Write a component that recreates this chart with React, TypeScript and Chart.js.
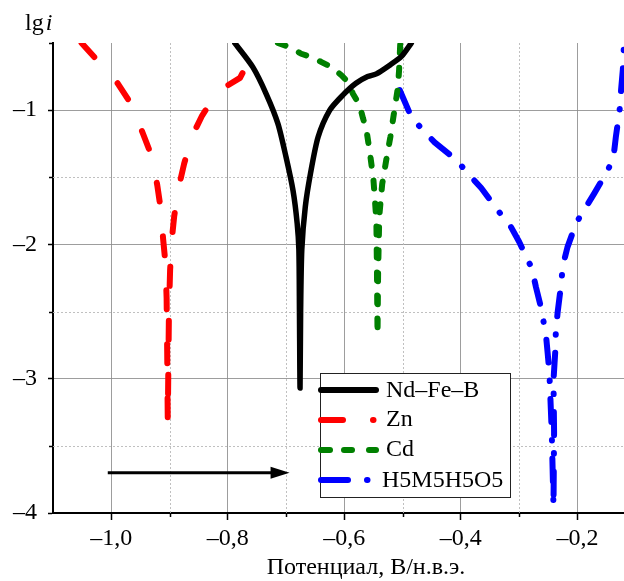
import { useEffect, useRef } from 'react';
import { Chart, registerables } from 'chart.js';

Chart.register(...registerables);

const seriesLabels = ['Nd\u2013Fe\u2013B', 'Zn', 'Cd', 'H5M5H5O5'];
const seriesColors = ['#000000', '#ff0000', '#008000', '#0000ff'];

const ndfebPotential = [-0.788, -0.757, -0.734, -0.714, -0.700, -0.688, -0.681, -0.678, -0.677, -0.676, -0.675, -0.673, -0.667, -0.658, -0.645, -0.625, -0.603, -0.580, -0.560, -0.545, -0.522, -0.502, -0.485];
const ndfebLgI = [-0.50, -0.68, -0.88, -1.10, -1.35, -1.60, -1.84, -2.04, -2.50, -3.07, -2.50, -2.04, -1.72, -1.47, -1.20, -1.00, -0.89, -0.80, -0.75, -0.73, -0.665, -0.60, -0.50];

const znPotential = [-1.051, -1.024, -0.989, -0.965, -0.946, -0.930, -0.921, -0.915, -0.911, -0.907, -0.905, -0.904, -0.903, -0.902, -0.901, -0.899, -0.896, -0.892, -0.884, -0.875, -0.862, -0.844, -0.817, -0.779, -0.754, -0.751];
const znLgI = [-0.50, -0.63, -0.80, -0.96, -1.17, -1.35, -1.56, -1.74, -1.96, -2.14, -2.40, -2.80, -3.33, -2.90, -2.50, -2.19, -1.96, -1.79, -1.57, -1.40, -1.20, -1.04, -0.86, -0.76, -0.55, -0.50];

const cdPotential = [-0.714, -0.694, -0.674, -0.660, -0.640, -0.622, -0.605, -0.594, -0.585, -0.574, -0.568, -0.562, -0.556, -0.550, -0.545, -0.544, -0.543, -0.542, -0.540, -0.535, -0.528, -0.521, -0.514, -0.508, -0.506, -0.504];
const cdLgI = [-0.50, -0.53, -0.58, -0.60, -0.64, -0.68, -0.74, -0.79, -0.88, -0.96, -1.06, -1.15, -1.32, -1.52, -1.82, -2.20, -2.67, -2.20, -1.79, -1.55, -1.37, -1.20, -1.00, -0.83, -0.70, -0.50];

const h5Potential = [-0.505, -0.485, -0.465, -0.445, -0.408, -0.388, -0.365, -0.334, -0.314, -0.300, -0.278, -0.271, -0.263, -0.254, -0.251, -0.248, -0.244, -0.241, -0.240, -0.241, -0.238, -0.237, -0.234, -0.228, -0.225, -0.217, -0.202, -0.188, -0.171, -0.148, -0.138, -0.134, -0.127, -0.125, -0.122, -0.120];
const h5LgI = [-0.85, -1.05, -1.15, -1.24, -1.37, -1.47, -1.58, -1.76, -1.87, -1.98, -2.18, -2.32, -2.46, -2.67, -2.81, -2.96, -3.40, -3.95, -3.40, -3.01, -2.80, -2.65, -2.51, -2.30, -2.16, -2.02, -1.84, -1.74, -1.62, -1.45, -1.35, -1.20, -0.98, -0.85, -0.70, -0.50];

const xMin = -1.1;
const xMax = -0.12;
const yMin = -4;
const yMax = -0.5;
const xMajorTicks = [-1.0, -0.8, -0.6, -0.4, -0.2];
const xMinorTicks = [-0.9, -0.7, -0.5, -0.3];
const yMajorTicks = [-1, -2, -3, -4];
const yMinorTicks = [-0.5, -1.5, -2.5, -3.5];

const arrowStart = [-1.006, -3.70];
const arrowEnd = [-0.694, -3.70];

const xTitle = 'Потенциал, В/н.в.э.';
const yTitleMain = 'lg';
const yTitleItalic = 'i';

const FONT = '"Liberation Serif", "DejaVu Serif", serif';

function toPoints(xs: number[], ys: number[]) {
  return xs.map((x, i) => ({ x, y: ys[i] }));
}

const decorPlugin = {
  id: 'decor',
  beforeDatasetsDraw(chart: any) {
    const { ctx, chartArea: a, scales } = chart;
    const x = scales.x;
    const y = scales.y;
    ctx.save();
    ctx.strokeStyle = 'rgba(185,185,185,0.9)';
    ctx.lineWidth = 1;
    ctx.setLineDash([2, 2]);
    xMinorTicks.forEach((v) => {
      const px = Math.round(x.getPixelForValue(v)) + 0.5;
      ctx.beginPath();
      ctx.moveTo(px, a.top);
      ctx.lineTo(px, a.bottom);
      ctx.stroke();
    });
    yMinorTicks.forEach((v) => {
      if (v >= yMax) return;
      const py = Math.round(y.getPixelForValue(v)) + 0.5;
      ctx.beginPath();
      ctx.moveTo(a.left, py);
      ctx.lineTo(a.right, py);
      ctx.stroke();
    });
    ctx.restore();
  },
  afterDraw(chart: any) {
    const { ctx, chartArea: a, scales } = chart;
    const x = scales.x;
    const y = scales.y;
    ctx.save();
    ctx.strokeStyle = '#000';
    ctx.lineWidth = 1.5;
    ctx.setLineDash([]);
    xMinorTicks.forEach((v) => {
      const px = Math.round(x.getPixelForValue(v)) + 0.5;
      ctx.beginPath();
      ctx.moveTo(px, a.bottom);
      ctx.lineTo(px, a.bottom + 4);
      ctx.stroke();
    });
    yMinorTicks.forEach((v) => {
      const py = Math.round(y.getPixelForValue(v)) + 0.5;
      ctx.beginPath();
      ctx.moveTo(a.left, py);
      ctx.lineTo(a.left - 4, py);
      ctx.stroke();
    });

    // arrow
    const ax0 = x.getPixelForValue(arrowStart[0]);
    const ay0 = y.getPixelForValue(arrowStart[1]);
    const ax1 = x.getPixelForValue(arrowEnd[0]);
    const ay1 = y.getPixelForValue(arrowEnd[1]);
    ctx.strokeStyle = '#000';
    ctx.fillStyle = '#000';
    ctx.lineWidth = 3;
    ctx.beginPath();
    ctx.moveTo(ax0, ay0);
    ctx.lineTo(ax1 - 14, ay1);
    ctx.stroke();
    ctx.beginPath();
    ctx.moveTo(ax1, ay1);
    ctx.lineTo(ax1 - 19, ay1 - 6);
    ctx.lineTo(ax1 - 19, ay1 + 6);
    ctx.closePath();
    ctx.fill();

    // legend
    const bx = 320, by = 373, bw = 190, bh = 124;
    ctx.fillStyle = '#fff';
    ctx.fillRect(bx, by, bw, bh);
    ctx.strokeStyle = '#222';
    ctx.lineWidth = 1;
    ctx.strokeRect(bx + 0.5, by + 0.5, bw, bh);
    const rowsY = [390, 420, 450, 480];
    const textBase = [397, 426, 456, 487];
    const textX = [386, 386, 386, 382];
    ctx.lineCap = 'round';
    ctx.lineWidth = 6;
    const seg = (c: string, x0: number, x1: number, yy: number) => {
      ctx.strokeStyle = c;
      ctx.beginPath();
      ctx.moveTo(x0, yy);
      ctx.lineTo(x1, yy);
      ctx.stroke();
    };
    seg(seriesColors[0], 321, 376, rowsY[0]);
    seg(seriesColors[1], 321, 343, rowsY[1]);
    seg(seriesColors[1], 373, 373.5, rowsY[1]);
    seg(seriesColors[2], 321, 330, rowsY[2]);
    seg(seriesColors[2], 344, 352, rowsY[2]);
    seg(seriesColors[2], 369, 376, rowsY[2]);
    seg(seriesColors[3], 321, 348, rowsY[3]);
    seg(seriesColors[3], 367, 367.5, rowsY[3]);
    ctx.fillStyle = '#000';
    ctx.font = `24px ${FONT}`;
    ctx.textAlign = 'left';
    ctx.textBaseline = 'alphabetic';
    seriesLabels.forEach((t, i) => ctx.fillText(t, textX[i], textBase[i]));

    // axis titles
    ctx.textAlign = 'center';
    ctx.fillText(xTitle, 366, 574);
    ctx.textAlign = 'left';
    ctx.font = `24px ${FONT}`;
    ctx.fillText(yTitleMain, 25, 30);
    const w = ctx.measureText(yTitleMain).width;
    ctx.font = `italic 24px ${FONT}`;
    ctx.fillText(yTitleItalic, 25 + w + 2, 30);
    ctx.restore();
  },
};

export default function App() {
  const ref = useRef<HTMLCanvasElement | null>(null);
  useEffect(() => {
    if (!ref.current) return;
    const mk = (i: number, xs: number[], ys: number[], dash: number[], width: number, tension: number) => ({
      label: seriesLabels[i],
      data: toPoints(xs, ys),
      borderColor: seriesColors[i],
      backgroundColor: seriesColors[i],
      borderWidth: width,
      borderDash: dash,
      borderCapStyle: 'round',
      borderJoinStyle: 'round',
      pointRadius: 0,
      tension,
      fill: false,
    });
    const chart = new Chart(ref.current, {
      type: 'line',
      data: {
        datasets: [
          mk(0, ndfebPotential, ndfebLgI, [], 5.5, 0.25),
          mk(1, znPotential, znLgI, [19, 35], 6, 0),
          mk(2, cdPotential, cdLgI, [8, 15], 6, 0),
          mk(3, h5Potential, h5LgI, [23, 18, 0.5, 18], 6, 0),
        ] as any,
      },
      options: {
        animation: false,
        responsive: true,
        maintainAspectRatio: false,
        layout: { padding: { top: 43, left: 0, right: 0, bottom: 0 } },
        plugins: {
          legend: { display: false },
          tooltip: { enabled: false },
        },
        scales: {
          x: {
            type: 'linear',
            min: xMin,
            max: xMax,
            afterBuildTicks: (s: any) => {
              s.ticks = xMajorTicks.map((v) => ({ value: v }));
            },
            afterFit: (s: any) => {
              s.height = 68;
            },
            ticks: {
              color: '#000',
              font: { family: FONT, size: 24 },
              padding: 4,
              maxRotation: 0,
              autoSkip: false,
              callback: (v: any) => '\u2013' + Math.abs(Number(v)).toFixed(1).replace('.', ','),
            },
            grid: {
              color: 'rgba(140,140,140,0.85)',
              lineWidth: 1,
              tickColor: '#000',
              tickLength: 7,
              tickWidth: 1.5,
            },
            border: { color: '#000', width: 2 },
          },
          y: {
            type: 'linear',
            min: yMin,
            max: yMax,
            afterBuildTicks: (s: any) => {
              s.ticks = yMajorTicks.map((v) => ({ value: v }));
            },
            afterFit: (s: any) => {
              s.width = 53;
            },
            ticks: {
              color: '#000',
              font: { family: FONT, size: 24 },
              padding: 11,
              autoSkip: false,
              callback: (v: any) => '\u2013' + Math.abs(Number(v)),
            },
            grid: {
              color: 'rgba(140,140,140,0.85)',
              lineWidth: 1,
              tickColor: '#000',
              tickLength: 5,
              tickWidth: 1.5,
            },
            border: { color: '#000', width: 2 },
          },
        },
      } as any,
      plugins: [decorPlugin],
    });
    return () => chart.destroy();
  }, []);
  return (
    <div style={{ position: 'absolute', left: 0, top: 0, width: 624, height: 581, background: '#fff' }}>
      <canvas ref={ref} />
    </div>
  );
}
